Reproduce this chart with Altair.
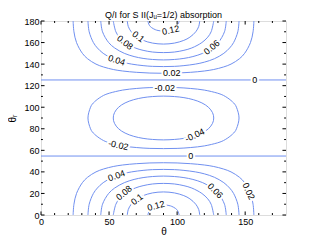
import altair as alt
import pandas as pd

TITLE = "Q/I for S II(Jᵤ=1/2) absorption"

# ---- contour paths (theta, theta_r in degrees) ----
P002_t = [23.6, 24.2, 26.1, 30.4, 34.2, 40.4, 46.0, 53.1, 60.0, 70.0, 80.0, 90.0, 100.0, 110.0, 120.0, 126.9, 134.0, 139.6, 145.8, 149.6, 153.9, 155.8, 156.4]
B002_r = [0, 10, 20, 30, 35, 40, 42.7, 45, 46.4, 47.6, 48.3, 48.5, 48.3, 47.6, 46.4, 45, 42.7, 40, 35, 30, 20, 10, 0]
T002_r = [180, 170, 160, 150, 145, 140, 137.3, 135, 133.6, 132.4, 131.7, 131.5, 131.7, 132.4, 133.6, 135, 137.3, 140, 145, 150, 160, 170, 180]

P004_t = [34.5, 35.4, 38.5, 41.4, 45.7, 52.6, 60.0, 66.6, 75.0, 82.0, 90.0, 98.0, 105.0, 113.4, 120.0, 127.4, 134.3, 138.6, 141.5, 144.6, 145.5]
B004_r = [0, 10, 20, 25, 30, 35, 38.2, 40, 41.4, 42.1, 42.3, 42.1, 41.4, 40, 38.2, 35, 30, 25, 20, 10, 0]
T004_r = [180, 170, 160, 155, 150, 145, 141.8, 140, 138.6, 137.9, 137.7, 137.9, 138.6, 140, 141.8, 145, 150, 155, 160, 170, 180]

P006_t = [43.9, 45.2, 49.7, 54.1, 61.2, 68.4, 75.0, 82.0, 90.0, 98.0, 105.0, 111.6, 118.8, 125.9, 130.3, 134.8, 136.1]
B006_r = [0, 10, 20, 25, 30, 33, 34.7, 35.7, 36.1, 35.7, 34.7, 33, 30, 25, 20, 10, 0]
T006_r = [180, 170, 160, 155, 150, 147, 145.3, 144.3, 143.9, 144.3, 145.3, 147, 150, 155, 160, 170, 180]

P008_t = [53.1, 55.0, 57.5, 61.8, 69.2, 75.0, 82.0, 90.0, 98.0, 105.0, 110.8, 118.2, 122.5, 125.0, 126.9]
B008_r = [0, 10, 15, 20, 25, 27.2, 28.8, 29.3, 28.8, 27.2, 25, 20, 15, 10, 0]
T008_r = [180, 170, 165, 160, 155, 152.8, 151.2, 150.7, 151.2, 152.8, 155, 160, 165, 170, 180]

P010_t = [63.4, 64.1, 66.3, 70.6, 75.1, 82.0, 90.0, 98.0, 104.9, 109.4, 113.7, 115.9, 116.6]
B010_r = [0, 5, 10, 15, 18, 20.5, 21.4, 20.5, 18, 15, 10, 5, 0]
T010_r = [180, 175, 170, 165, 162, 159.5, 158.6, 159.5, 162, 165, 170, 175, 180]

P012_t = [78.5, 79.6, 81.1, 83.9, 86.0, 90.0, 94.0, 96.1, 98.9, 100.4, 101.5]
B012_r = [0, 4, 6, 8, 8.8, 9.4, 8.8, 8, 6, 4, 0]
T012_r = [180, 176, 174, 172, 171.2, 170.6, 171.2, 172, 174, 176, 180]

# negative closed contours around theta_r = 90
N002_t = [34.5, 36.4, 39.3, 44.6, 50.2, 60, 70, 80, 90, 100, 110, 120, 129.8, 135.4, 140.7, 143.6, 145.5, 143.6, 140.7, 135.4, 129.8, 120, 110, 100, 90, 80, 70, 60, 50.2, 44.6, 39.3, 36.4]
N002_r = [90, 80, 75, 70, 67, 64.1, 62.6, 61.8, 61.6, 61.8, 62.6, 64.1, 67, 70, 75, 80, 90, 100, 105, 110, 113, 115.9, 117.4, 118.2, 118.4, 118.2, 117.4, 115.9, 113, 110, 105, 100]
N004_t = [53.1, 54.0, 57.0, 61.8, 68.1, 75, 82, 90, 98, 105, 111.9, 118.2, 123, 126, 126.9, 126, 123, 118.2, 111.9, 105, 98, 90, 82, 75, 68.1, 61.8, 57, 54]
N004_r = [90, 85, 80, 76, 73, 71.1, 70.1, 69.7, 70.1, 71.1, 73, 76, 80, 85, 90, 95, 100, 104, 107, 108.9, 109.9, 110.3, 109.9, 108.9, 107, 104, 100, 95]

# zero contours (straight lines)
Z_t = [0, 180]
Z_low_r = [54.7, 54.7]
Z_high_r = [125.3, 125.3]

# contour labels: text, theta, theta_r, angle (deg)
lab_text = ["0.04", "0.08", "0.1", "0.12", "0.06", "0.02", "0",
            "-0.02", "-0.02", "-0.04", "0",
            "0.02", "0.04", "0.08", "0.1", "0.12", "0.06"]
lab_t = [55.5, 61.0, 70.5, 84.5, 128.0, 152.5, 110.0,
         91.0, 56.8, 113.0, 157.0,
         96.0, 55.6, 61.7, 71.5, 95.3, 125.4]
lab_r = [36.5, 20.5, 14.5, 8.5, 22.5, 22.0, 54.7,
         118.0, 64.8, 74.0, 125.3,
         131.5, 143.5, 160.0, 165.5, 171.5, 155.5]
lab_angle = [340, 320, 322, 345, 45, 65, 0,
             0, 12, 335, 0,
             0, 18, 38, 38, 348, 320]

# axis ticks
x_major = [0, 50, 100, 150]
x_minor = [10, 20, 30, 40, 60, 70, 80, 90, 110, 120, 130, 140, 160, 170]
y_major = [0, 20, 40, 60, 80, 100, 120, 140, 160, 180]
y_minor = [10, 30, 50, 70, 90, 110, 130, 150, 170]

FONT = "Liberation Sans"
LINE = "#7090f0"

open_paths = [
    ("b002", P002_t, B002_r), ("t002", P002_t, T002_r),
    ("b004", P004_t, B004_r), ("t004", P004_t, T004_r),
    ("b006", P006_t, B006_r), ("t006", P006_t, T006_r),
    ("b008", P008_t, B008_r), ("t008", P008_t, T008_r),
    ("b010", P010_t, B010_r), ("t010", P010_t, T010_r),
    ("b012", P012_t, B012_r), ("t012", P012_t, T012_r),
    ("z1", Z_t, Z_low_r), ("z2", Z_t, Z_high_r),
]
closed_paths = [("n002", N002_t, N002_r), ("n004", N004_t, N004_r)]

def to_df(paths):
    rows = []
    for name, ts, rs in paths:
        for i, (t, r) in enumerate(zip(ts, rs)):
            rows.append({"id": name, "i": i, "theta": t, "thetar": r})
    return pd.DataFrame(rows)

df_open = to_df(open_paths)
df_closed = to_df(closed_paths)
df_lab = pd.DataFrame({"text": lab_text, "theta": lab_t, "thetar": lab_r, "angle": lab_angle})

xs = alt.Scale(domain=[0, 180], nice=False, zero=False)
ys = alt.Scale(domain=[0, 180], nice=False, zero=False)

x_axis = alt.Axis(values=x_major, title="θ", ticks=False, domain=False, grid=False,
                  labelFont=FONT, labelFontSize=9, labelPadding=2, labelFlush=False,
                  labelOverlap=False,
                  titleFont=FONT, titleFontSize=10, titleFontWeight="normal", titlePadding=0,
                  labelColor="black", titleColor="black")
y_axis = alt.Axis(values=y_major, title="θᵣ", ticks=False, domain=False, grid=False,
                  labelFont=FONT, labelFontSize=9, labelPadding=2, labelFlush=False,
                  labelOverlap=False,
                  titleFont=FONT, titleFontSize=10, titleFontWeight="normal", titlePadding=6,
                  labelColor="black", titleColor="black")

def X(field):
    return alt.X(field, scale=xs, axis=x_axis, title="θ")

def Y(field):
    return alt.Y(field, scale=ys, axis=y_axis, title="θᵣ")

lines = alt.Chart(df_open).mark_line(color=LINE, strokeWidth=1, interpolate="catmull-rom", clip=True).encode(
    x=X("theta:Q"), y=Y("thetar:Q"), detail="id:N", order="i:Q",
)
loops = alt.Chart(df_closed).mark_line(color=LINE, strokeWidth=1, interpolate="cardinal-closed").encode(
    x=X("theta:Q"), y=Y("thetar:Q"), detail="id:N", order="i:Q",
)
halo = alt.Chart(df_lab).mark_text(font=FONT, fontSize=9, color="white", stroke="white", strokeWidth=4).encode(
    x=X("theta:Q"), y=Y("thetar:Q"),
    text="text:N", angle=alt.Angle("angle:Q", scale=None),
)
labels = alt.Chart(df_lab).mark_text(font=FONT, fontSize=9, color="black").encode(
    x=X("theta:Q"), y=Y("thetar:Q"),
    text="text:N", angle=alt.Angle("angle:Q", scale=None),
)

# inward ticks on all four sides
tick_rows = []
for v in x_major:
    tick_rows.append({"x": v, "x2": v, "y": 0, "y2": 3.3})
    tick_rows.append({"x": v, "x2": v, "y": 180, "y2": 176.7})
for v in x_minor:
    tick_rows.append({"x": v, "x2": v, "y": 0, "y2": 1.8})
    tick_rows.append({"x": v, "x2": v, "y": 180, "y2": 178.2})
for v in y_major:
    tick_rows.append({"x": 0, "x2": 2.6, "y": v, "y2": v})
    tick_rows.append({"x": 180, "x2": 177.4, "y": v, "y2": v})
for v in y_minor:
    tick_rows.append({"x": 0, "x2": 1.4, "y": v, "y2": v})
    tick_rows.append({"x": 180, "x2": 178.6, "y": v, "y2": v})
df_ticks = pd.DataFrame(tick_rows)
ticks = alt.Chart(df_ticks).mark_rule(color="black", strokeWidth=1).encode(
    x=X("x:Q"), x2="x2:Q", y=Y("y:Q"), y2="y2:Q",
)

# chart title drawn as a text mark just above the frame
title_mark = alt.Chart(pd.DataFrame({"t": [TITLE]})).mark_text(
    font=FONT, fontSize=9, color="black", baseline="middle", align="center"
).encode(text="t:N", x=alt.value(122.5), y=alt.value(-6))

chart = alt.layer(lines, loops, halo, labels, ticks, title_mark).properties(
    width=245, height=194,
    autosize=alt.AutoSizeParams(type="none"),
    padding={"left": 33, "top": 13, "right": 14, "bottom": 27},
).configure_view(stroke="black", strokeWidth=1).configure(background="white")

chart.save("out.html", embed_options={"renderer": "svg", "actions": False})
